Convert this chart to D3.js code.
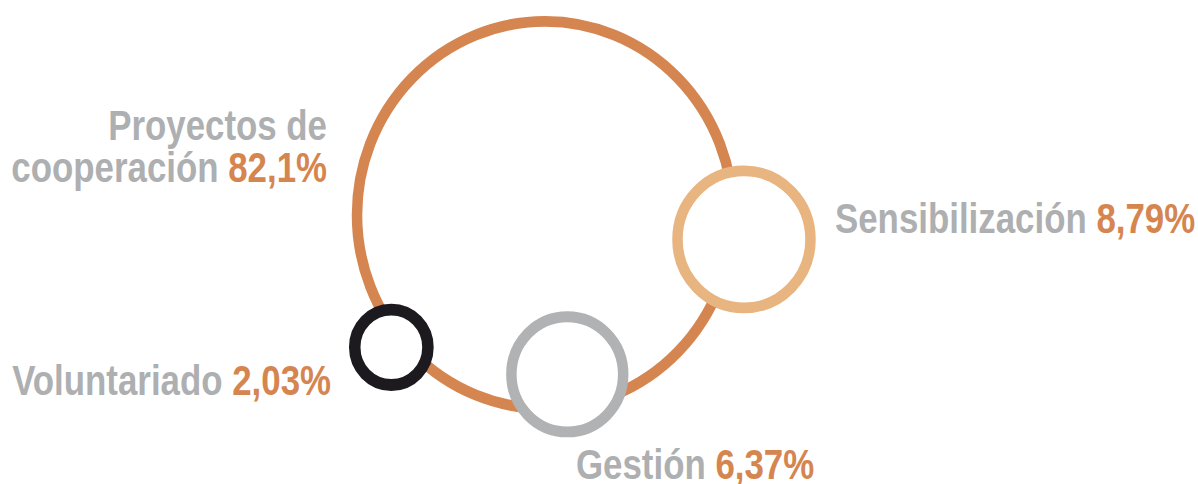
<!DOCTYPE html>
<html>
<head>
    <meta charset="utf-8">
    <title>Distribución de fondos</title>
    <script src="https://d3js.org/d3.v7.min.js"></script>
    <style>
        body { margin: 0; background: #fff; }
        .label { font-family: "Liberation Sans", Arial, sans-serif; font-weight: bold; font-size: 42px; }
    </style>
</head>
<body>
    <div id="chart"></div>

    <script>
        // data
        var categories = ["Proyectos de cooperación", "Sensibilización", "Gestión", "Voluntariado"];
        var values = [82.1, 8.79, 6.37, 2.03];

        var width = 1198, height = 484;

        var svg = d3.select("#chart")
            .append("svg")
            .attr("width", width)
            .attr("height", height);

        // number format with decimal comma
        var es = d3.formatLocale({ decimal: ",", thousands: ".", grouping: [3], currency: ["", " €"] });
        var fmt = es.format(".3");

        // ring sizes (hand tuned, not strictly proportional in the original)
        var radius = d3.scaleLinear()
            .domain([2.03, 6.37, 8.79, 82.1])
            .range([36.6, 55.9, 66.5, 188]);

        var colors = ["#d5854f", "#e8b47f", "#b1b2b3", "#1c1a1f"];
        var strokes = [10.5, 10.5, 10.5, 11.5];

        // where the small rings sit around the big one (angle in degrees, distance from centre)
        var placement = [null, { a: 6.8, d: 200.4 }, { a: 81.8, d: 156.3 }, { a: 140.1, d: 200.3 }];

        var g = svg.append("g")
            .attr("transform", "translate(545,215) scale(1,1.03)");

        var nodes = categories.map(function(c, i) {
            var p = placement[i];
            var x = 0, y = 0;
            if (p) {
                x = Math.cos(p.a * Math.PI / 180) * p.d;
                y = Math.sin(p.a * Math.PI / 180) * p.d;
            }
            return { name: c, value: values[i], x: x, y: y, i: i };
        });

        g.selectAll("circle")
            .data(nodes)
            .enter().append("circle")
            .attr("cx", function(d) { return d.x; })
            .attr("cy", function(d) { return d.y; })
            .attr("r", function(d) { return radius(d.value); })
            .attr("fill", function(d) { return d.i === 0 ? "none" : "#fff"; })
            .attr("stroke", function(d) { return colors[d.i]; })
            .attr("stroke-width", function(d) { return strokes[d.i]; });

        // labels (condensed look: bold sans squeezed horizontally)
        var labelPos = [
            { x: 327, y: 182, anchor: "end", lines: ["Proyectos de", "cooperación"] },
            { x: 835, y: 233, anchor: "start" },
            { x: 576, y: 479, anchor: "start" },
            { x: 331, y: 395, anchor: "end" }
        ];

        nodes.forEach(function(d) {
            var lp = labelPos[d.i];
            var lines = lp.lines || [d.name];
            var t = svg.append("text")
                .attr("class", "label")
                .attr("text-anchor", lp.anchor)
                .attr("transform", "translate(" + lp.x + "," + lp.y + ") scale(0.83,1)");
            lines.forEach(function(line, k) {
                t.append("tspan")
                    .attr("x", 0)
                    .attr("y", -(lines.length - 1 - k) * 42)
                    .attr("fill", "#aeafb1")
                    .text(line);
                if (k === lines.length - 1) {
                    t.append("tspan")
                        .attr("fill", colors[0])
                        .text(" " + fmt(d.value) + "%");
                }
            });
        });
    </script>
</body>
</html>
